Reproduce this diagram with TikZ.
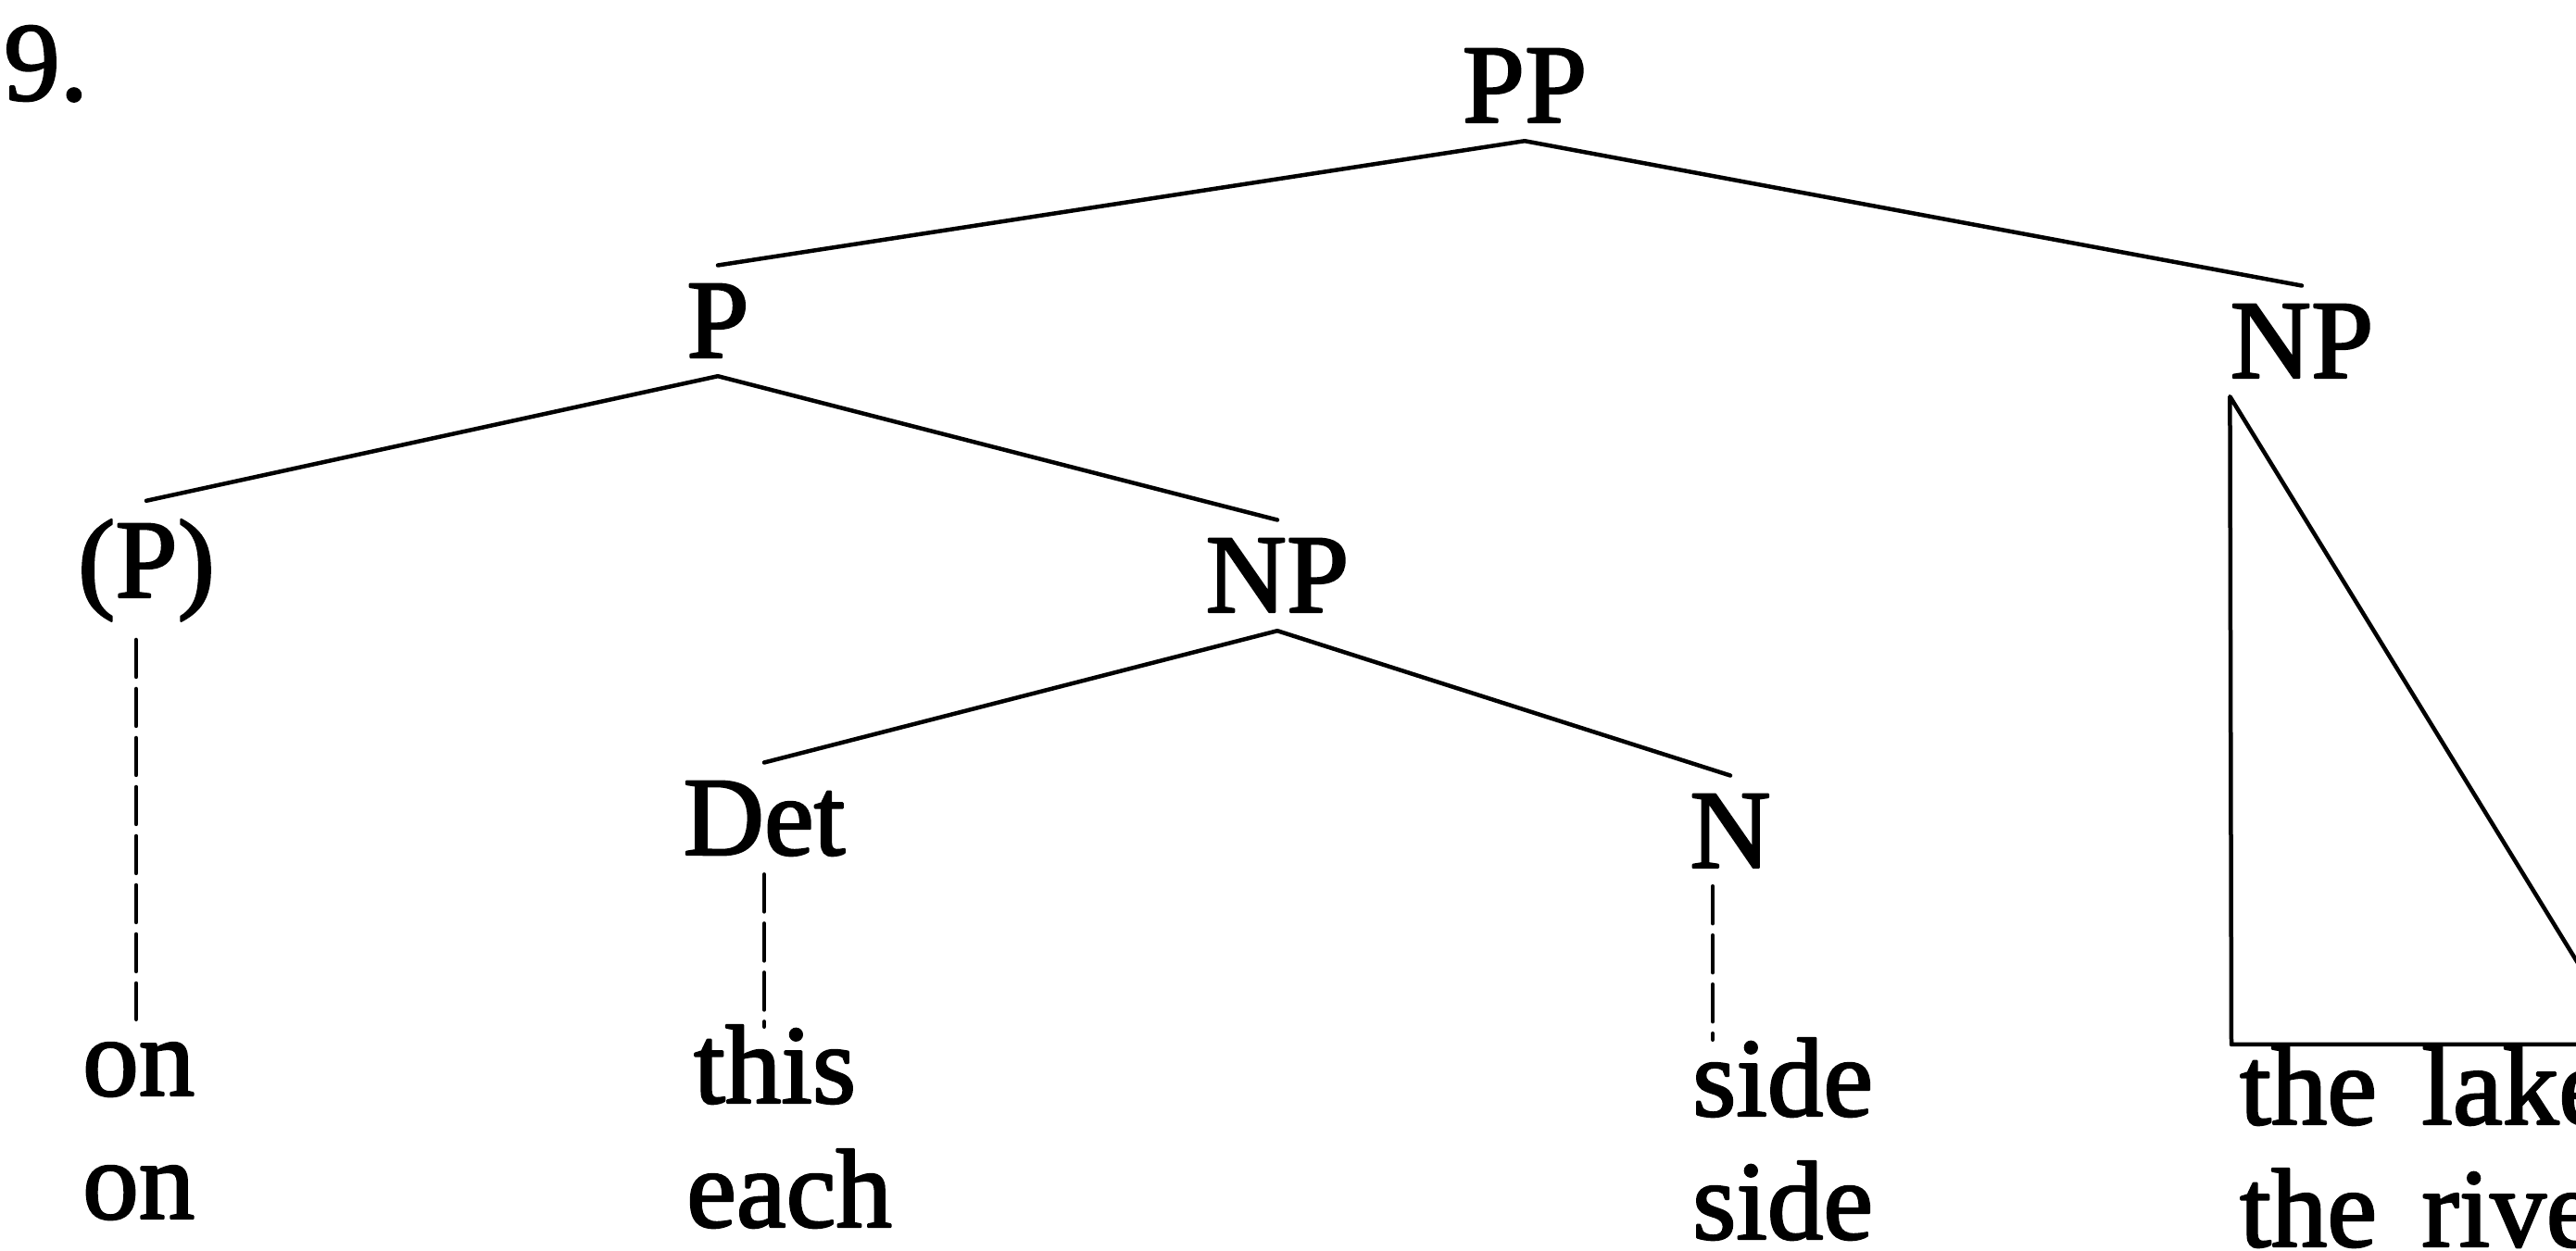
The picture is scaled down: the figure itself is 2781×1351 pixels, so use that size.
\documentclass[tikz,border=0pt]{standalone}
\usepackage{fontspec}
\setmainfont{Liberation Serif}
\newfontface\scanfont{Liberation Serif}[FakeBold=2]
\begin{document}
\begin{tikzpicture}[x=0.1pt, y=-0.1pt, font=\fontsize{12.1}{14}\selectfont\scanfont, line join=round, line cap=round, line width=0.45pt,
	lab/.style={anchor=base, inner sep=1.8pt},
	leaf/.style={anchor=base west, inner sep=1pt, text height=0.7em},
	tie/.style={dash pattern=on 4pt off 1.3pt}]
	\useasboundingbox (0,0) rectangle (2781,1351);
	\node[anchor=base west, inner sep=0pt] (num) at (2,108) {9.};
	\node[lab] (PP) at (1646,132) {PP};
	\node[lab] (P) at (775,386) {P};
	\node[lab] (NPb) at (2485,408) {NP};
	\node[lab] (Po) at (158,645) {(P)};
	\node[lab] (NP) at (1379,661) {NP};
	\node[lab] (Det) at (825,923) {Det};
	\node[lab] (N) at (1868,937) {N};
	\node[leaf] (on1) at (77,1183) {on};
	\node[leaf] (on2) at (77,1316) {on};
	\node[leaf] (this) at (737,1191) {this};
	\node[leaf] (each) at (729,1325) {each};
	\node[leaf] (side1) at (1815,1205) {side};
	\node[leaf] (side2) at (1815,1338) {side};
	\node[leaf] (lake) at (2406,1214) {the\hspace{0.15em} lake};
	\node[leaf] (river) at (2406,1346) {the\hspace{0.15em} river};
	\draw (PP.south)--(P.north) (PP.south)--(NPb.north) (P.south)--(Po.north) (P.south)--(NP.north) (NP.south)--(Det.north) (NP.south)--(N.north);
	\coordinate (dPo) at ([xshift=-1.1pt]Po.south);
	\coordinate (dDet) at (Det.south);
	\coordinate (dN) at ([xshift=-1.9pt]N.south);
	\draw[tie] (dPo)--(dPo|-on1.north) (dDet)--(dDet|-this.north) (dN)--(dN|-side1.north);
	\coordinate (roofL) at (2409,1128);
	\coordinate (roofR) at (2837,1128);
	\draw ([xshift=2pt]NPb.south west)--(roofL)--(roofR)--cycle;
\end{tikzpicture}
\end{document}
